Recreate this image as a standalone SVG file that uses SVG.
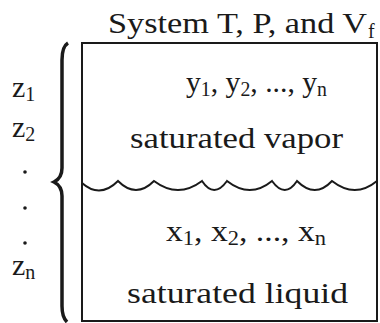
<svg xmlns="http://www.w3.org/2000/svg" width="380" height="323" viewBox="0 0 380 323">
<style>
text{font-family:"Liberation Serif","Times New Roman",serif;fill:#1a1a1a;font-size:30px}
.sub{font-size:20px}
.line{fill:none;stroke:#1a1a1a;stroke-width:2}
</style>
<rect width="380" height="323" fill="#fff"/>
<g id="title"><text x="108" y="33" textLength="259" lengthAdjust="spacingAndGlyphs">System T, P, and V</text><text class="sub" x="368" y="38">f</text></g>
<g id="system">
<rect class="line" x="82" y="43" width="295" height="278"/>
<path class="line" d="M82,183 Q100,199 118,181 Q136,199 154,181 Q178,199 202,181 Q214,199 227,181 Q250,199 272,181 Q285,199 297,181 Q315,199 332,181 Q355,199 377,181"/>
</g>
<g id="vapor">
<text x="186" y="92" textLength="141" lengthAdjust="spacingAndGlyphs">y<tspan class="sub" dy="4">1</tspan><tspan dy="-4">, y</tspan><tspan class="sub" dy="4">2</tspan><tspan dy="-4">, ..., y</tspan><tspan class="sub" dy="4">n</tspan></text>
<text x="130" y="148" textLength="213" lengthAdjust="spacingAndGlyphs">saturated vapor</text>
</g>
<g id="liquid">
<text x="166" y="241" textLength="160" lengthAdjust="spacingAndGlyphs">x<tspan class="sub" dy="4">1</tspan><tspan dy="-4">, x</tspan><tspan class="sub" dy="4">2</tspan><tspan dy="-4">, ..., x</tspan><tspan class="sub" dy="4">n</tspan></text>
<text x="127" y="303" textLength="221" lengthAdjust="spacingAndGlyphs">saturated liquid</text>
</g>
<g id="feed">
<text x="12" y="97">z<tspan class="sub" dy="4">1</tspan></text>
<text x="12" y="137">z<tspan class="sub" dy="4">2</tspan></text>
<circle cx="25" cy="172" r="1.8" fill="#1a1a1a"/>
<circle cx="25" cy="208" r="1.8" fill="#1a1a1a"/>
<circle cx="25" cy="243" r="1.8" fill="#1a1a1a"/>
<text x="12" y="275">z<tspan class="sub" dy="4">n</tspan></text>
</g>
<g id="connectors">
<path d="M68,43 C63,46 62,52 62,60 L62,168 C62,176 58,180 54,182 C58,184 62,188 62,196 L62,306 C62,314 64,319 67,322" fill="none" stroke="#1a1a1a" stroke-width="3.5"/>
</g>
</svg>
